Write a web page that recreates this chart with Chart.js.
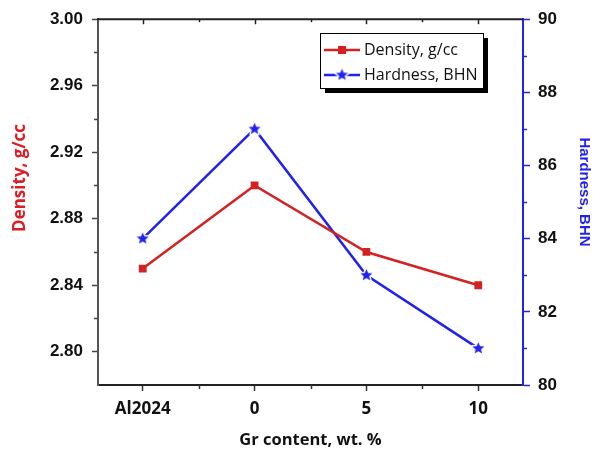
<!DOCTYPE html>
<html>
<head>
<meta charset="utf-8">
<script src="https://cdn.jsdelivr.net/npm/chart.js@4.4.0/dist/chart.umd.min.js"></script>
<style>
html,body{margin:0;padding:0;background:#fff;}
#wrap{width:595px;height:452px;}
</style>
</head>
<body>
<div id="wrap"><canvas id="c" width="595" height="452"></canvas></div>
<script>
// ---- data ----
const categories = ['Al2024', '0', '5', '10'];
const densityValues = [2.85, 2.90, 2.86, 2.84];
const hardnessValues = [84, 87, 83, 81];
const densityTicks = [2.80, 2.84, 2.88, 2.92, 2.96, 3.00];
const hardnessTicks = [80, 82, 84, 86, 88, 90];
const seriesLabels = ['Density, g/cc', 'Hardness, BHN'];
const axisTitles = { x: 'Gr content, wt. %', y: 'Density, g/cc', y1: 'Hardness, BHN' };

const RED = '#d42222';
const BLUE = '#2222ee';

function makeStar(size, color) {
  const c = document.createElement('canvas');
  c.width = size; c.height = size;
  const g = c.getContext('2d');
  const cx = size / 2, cy = size / 2, R = size / 2 - 2.2, r = R * 0.45;
  g.beginPath();
  for (let i = 0; i < 10; i++) {
    const ang = -Math.PI / 2 + i * Math.PI / 5;
    const rad = i % 2 === 0 ? R : r;
    const px = cx + rad * Math.cos(ang), py = cy + rad * Math.sin(ang);
    if (i === 0) g.moveTo(px, py); else g.lineTo(px, py);
  }
  g.closePath();
  g.lineWidth = 3; g.strokeStyle = '#fff'; g.lineJoin = 'round'; g.stroke();
  g.fillStyle = color; g.fill();
  return c;
}
const starImg = makeStar(17, BLUE);

const decor = {
  id: 'decor',
  afterDraw(chart) {
    const ctx = chart.ctx;
    const ca = chart.chartArea;
    const x = chart.scales.x, y = chart.scales.y, y1 = chart.scales.y1;
    ctx.save();
    // top frame line
    ctx.strokeStyle = '#222'; ctx.lineWidth = 2;
    ctx.beginPath(); ctx.moveTo(ca.left - 1, ca.top); ctx.lineTo(ca.right, ca.top); ctx.stroke();
    // top ticks (inward)
    ctx.lineWidth = 1.5;
    for (let v = 0; v <= 3.001; v += 0.5) {
      const px = Math.round(x.getPixelForValue(v)) + 0.5;
      const len = Number.isInteger(v) ? 5 : 3;
      ctx.beginPath(); ctx.moveTo(px, ca.top); ctx.lineTo(px, ca.top + len); ctx.stroke();
    }
    // bottom minor ticks
    ctx.strokeStyle = '#333';
    for (let v = 0.5; v < 3; v += 1) {
      const px = Math.round(x.getPixelForValue(v)) + 0.5;
      ctx.beginPath(); ctx.moveTo(px, ca.bottom); ctx.lineTo(px, ca.bottom + 4); ctx.stroke();
    }
    // left minor ticks
    ctx.strokeStyle = '#444';
    for (let i = 0; i < densityTicks.length - 1; i++) {
      const v = (densityTicks[i] + densityTicks[i + 1]) / 2;
      const py = Math.round(y.getPixelForValue(v)) + 0.5;
      ctx.beginPath(); ctx.moveTo(ca.left - 4, py); ctx.lineTo(ca.left, py); ctx.stroke();
    }
    // right minor ticks
    ctx.strokeStyle = BLUE;
    for (let i = 0; i < hardnessTicks.length - 1; i++) {
      const v = (hardnessTicks[i] + hardnessTicks[i + 1]) / 2;
      const py = Math.round(y1.getPixelForValue(v)) + 0.5;
      ctx.beginPath(); ctx.moveTo(ca.right, py); ctx.lineTo(ca.right + 4, py); ctx.stroke();
    }
    // axis titles (rotated)
    ctx.font = 'bold 17px "Open Sans"';
    ctx.fillStyle = '#e01b22';
    ctx.textAlign = 'center'; ctx.textBaseline = 'middle';
    ctx.save(); ctx.translate(20, 178); ctx.rotate(-Math.PI / 2); ctx.fillText(axisTitles.y, 0, 0); ctx.restore();
    ctx.font = 'bold 15px "Liberation Sans"';
    ctx.fillStyle = BLUE;
    ctx.save(); ctx.translate(584, 192); ctx.rotate(Math.PI / 2); ctx.fillText(axisTitles.y1, 0, 0); ctx.restore();

    // legend
    const lx = 320, ly = 33, lw = 163, lh = 55;
    ctx.fillStyle = '#000';
    ctx.fillRect(lx + 5, ly + 5, lw, lh);
    ctx.fillStyle = '#fff';
    ctx.fillRect(lx, ly, lw, lh);
    ctx.strokeStyle = '#000'; ctx.lineWidth = 1;
    ctx.strokeRect(lx + 0.5, ly + 0.5, lw, lh);
    const rows = [ly + 17, ly + 42];
    chart.data.datasets.forEach((ds, i) => {
      const ry = rows[i];
      ctx.strokeStyle = ds.borderColor; ctx.lineWidth = 2.5;
      ctx.beginPath(); ctx.moveTo(lx + 4, ry); ctx.lineTo(lx + 40, ry); ctx.stroke();
      if (ds.pointStyle === 'rect') {
        ctx.fillStyle = ds.borderColor; ctx.fillRect(lx + 18, ry - 4, 8, 8);
      } else {
        ctx.drawImage(starImg, lx + 22 - starImg.width / 2, ry - starImg.height / 2);
      }
      ctx.fillStyle = '#111'; ctx.font = '16px "Open Sans"';
      ctx.textAlign = 'left'; ctx.textBaseline = 'middle';
      ctx.fillText(ds.label, lx + 44, ry);
    });
    ctx.restore();
  }
};

new Chart(document.getElementById('c'), {
  type: 'line',
  data: {
    datasets: [
      {
        label: seriesLabels[0],
        data: densityValues.map((v, i) => ({ x: i, y: v })),
        yAxisID: 'y',
        borderColor: RED, backgroundColor: RED,
        borderWidth: 2.5,
        pointStyle: 'rect', pointRadius: 5.5, pointBorderWidth: 0,
        tension: 0
      },
      {
        label: seriesLabels[1],
        data: hardnessValues.map((v, i) => ({ x: i, y: v })),
        yAxisID: 'y1',
        borderColor: BLUE, backgroundColor: BLUE,
        borderWidth: 2.5,
        pointStyle: starImg, pointRadius: 8,
        tension: 0
      }
    ]
  },
  options: {
    responsive: false,
    animation: false,
    events: [],
    layout: { padding: { top: 19, left: 0, right: 0, bottom: 0 } },
    plugins: { legend: { display: false }, tooltip: { enabled: false } },
    scales: {
      x: {
        type: 'linear',
        min: -0.4, max: 3.4,
        afterBuildTicks: (s) => { s.ticks = categories.map((c, i) => ({ value: i })); },
        afterFit: (s) => { s.height = 67; },
        ticks: {
          callback: (v) => categories[v],
          color: '#111', padding: 8, maxRotation: 0,
          font: { family: 'Open Sans', weight: 'bold', size: 17 }
        },
        grid: { drawOnChartArea: false, drawTicks: true, tickLength: 6, tickColor: '#333', tickWidth: 1.5 },
        border: { display: true, color: '#222', width: 2 },
        title: {
          display: true, text: axisTitles.x, color: '#111',
          font: { family: 'Open Sans', weight: 'bold', size: 16.5 },
          padding: { top: 0, bottom: 2 }
        }
      },
      y: {
        type: 'linear', position: 'left',
        min: 2.78, max: 3.00,
        afterBuildTicks: (s) => { s.ticks = densityTicks.map(v => ({ value: v })); },
        afterFit: (s) => { s.width = 98; },
        ticks: {
          callback: (v) => Number(v).toFixed(2),
          color: '#111', padding: 9,
          font: { family: 'Liberation Sans', weight: 'bold', size: 17 }
        },
        grid: { drawOnChartArea: false, drawTicks: true, tickLength: 6, tickColor: '#444', tickWidth: 1.5 },
        border: { display: true, color: '#555', width: 2 }
      },
      y1: {
        type: 'linear', position: 'right',
        min: 80, max: 90,
        afterBuildTicks: (s) => { s.ticks = hardnessTicks.map(v => ({ value: v })); },
        afterFit: (s) => { s.width = 72; },
        ticks: {
          callback: (v) => String(v),
          color: '#111', padding: 8,
          font: { family: 'Liberation Sans', weight: 'bold', size: 17 }
        },
        grid: { drawOnChartArea: false, drawTicks: true, tickLength: 7, tickColor: BLUE, tickWidth: 1.5 },
        border: { display: true, color: BLUE, width: 2 }
      }
    }
  },
  plugins: [decor]
});
</script>
</body>
</html>
